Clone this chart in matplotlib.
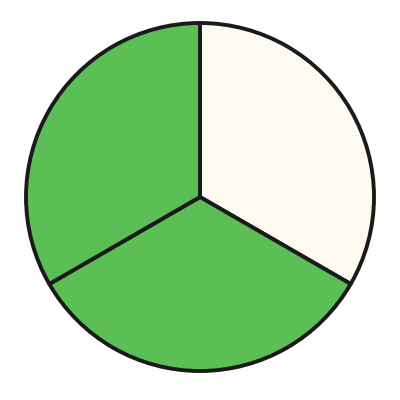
import matplotlib
matplotlib.use("Agg")
import matplotlib.pyplot as plt

# three equal parts, the first left unshaded
parts = ["part 1", "part 2", "part 3"]
shares = [1, 1, 1]
colors = ["#fdfaf0", "#5cbf55", "#5cbf55"]

fig = plt.figure(figsize=(4, 4), dpi=100)
ax = fig.add_axes([0, 0, 1, 1])

ax.pie(shares, colors=colors, startangle=90, counterclock=False, radius=1,
       wedgeprops=dict(edgecolor="#1a1a1a", linewidth=2.8, joinstyle="round"))

r = 174.0
ax.set_xlim(-200 / r, 200 / r)
ax.set_ylim(-203 / r, 197 / r)
ax.set_aspect("equal")
ax.axis("off")

fig.savefig("out.png", dpi=100, facecolor="white")
